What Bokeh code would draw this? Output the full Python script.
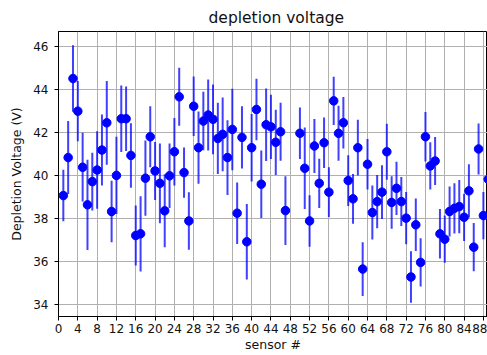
from bokeh.plotting import figure
from bokeh.models import ColumnDataSource, FixedTicker, Range1d
from bokeh.embed import file_html
from bokeh.resources import INLINE

sensors = list(range(1, 48)) + list(range(50, 90))
voltage = [39.08, 40.85, 44.53, 43.01, 40.4, 38.65, 39.73, 40.27, 41.2, 42.47,
           38.34, 40.02, 42.66, 42.66, 40.95, 37.22, 37.3, 39.89, 41.82, 40.23,
           39.65, 38.37, 40.0, 41.12, 43.68, 40.15, 37.9, 43.24, 41.31, 42.55,
           42.83, 42.63, 41.74, 41.93, 40.85, 42.16, 38.26, 41.79, 36.93, 41.31,
           43.09, 39.61, 42.38, 42.28, 41.56, 42.05, 38.38,
           41.98, 40.35, 37.9, 41.39, 39.65, 41.54, 39.24, 43.49, 41.98, 42.47,
           39.78, 38.93, 41.31, 35.66, 40.54, 38.29, 38.8, 39.24, 41.12, 38.76,
           39.42, 38.8, 38.03, 35.29, 37.72, 35.97, 41.82, 40.46, 40.69, 37.3,
           37.05, 38.34, 38.49, 38.57, 38.07, 39.3, 36.68, 41.25, 38.15, 39.84]
errors = [1.2, 1.7, 1.55, 1.4, 1.6, 2.1, 1.35, 1.8, 1.65, 1.95,
          1.43, 1.8, 1.55, 1.5, 1.5, 1.4, 1.75, 1.75, 1.42, 1.35,
          1.86, 1.7, 1.5, 1.57, 1.35, 1.17, 1.34, 1.39, 1.68, 1.36,
          1.65, 1.62, 1.66, 1.72, 1.74, 1.9, 1.43, 1.45, 1.76, 1.57,
          1.43, 1.57, 1.69, 1.5, 1.52, 1.35, 1.6,
          1.2, 1.9, 1.2, 1.26, 1.15, 1.18, 1.16, 1.12, 1.28, 1.2,
          1.18, 1.16, 1.3, 1.25, 1.18, 1.26, 1.24, 1.25, 1.3, 1.22,
          1.24, 1.14, 1.22, 1.2, 1.22, 1.12, 1.15, 1.1, 1.12, 1.15,
          1.1, 1.16, 1.17, 1.24, 1.1, 1.24, 1.12, 1.19, 1.1, 1.2]
x_ticks = list(range(0, 89, 4))
y_ticks = list(range(34, 47, 2))

src = ColumnDataSource(dict(
    x=sensors, y=voltage,
    lo=[v - e for v, e in zip(voltage, errors)],
    hi=[v + e for v, e in zip(voltage, errors)],
))

FONT = "DejaVu Sans"
p = figure(width=487, height=355, output_backend="svg", toolbar_location=None,
           x_range=Range1d(0, 88.85), y_range=Range1d(33.45, 46.72),
           title="depletion voltage")
p.min_border_left = 58
p.min_border_right = 0
p.min_border_top = 31
p.min_border_bottom = 39

p.title.align = "left"
p.title.offset = 150
p.title.text_font = FONT
p.title.text_font_size = "15.5px"
p.title.text_font_style = "normal"
p.title.text_color = "#111111"

p.segment(x0="x", y0="lo", x1="x", y1="hi", source=src,
          line_color="blue", line_alpha=0.75, line_width=2)
p.scatter(x="x", y="y", source=src, size=8.5, fill_color="blue", line_color="blue")

p.xaxis.ticker = FixedTicker(ticks=x_ticks)
p.yaxis.ticker = FixedTicker(ticks=y_ticks)
p.xaxis.axis_label = "sensor #"
p.yaxis.axis_label = "Depletion Voltage (V)"
for ax in (p.xaxis, p.yaxis):
    ax.axis_label_text_font = FONT
    ax.axis_label_text_font_size = "12.5px"
    ax.axis_label_text_font_style = "normal"
    ax.axis_label_text_color = "#111111"
    ax.major_label_text_font = FONT
    ax.major_label_text_font_size = "12px"
    ax.major_label_text_color = "#111111"
    ax.axis_line_color = "black"
    ax.major_tick_line_color = "black"
    ax.major_tick_out = 4
    ax.major_tick_in = 0
    ax.minor_tick_line_color = None
p.xaxis.major_label_standoff = 3
p.xaxis.axis_label_standoff = 1
p.yaxis.major_label_standoff = 6
p.yaxis.axis_label_standoff = 6

p.grid.grid_line_color = "#b0b0b0"
p.grid.grid_line_width = 1
p.outline_line_color = "black"
p.outline_line_alpha = 1
p.background_fill_color = "white"
p.border_fill_color = "white"

open("out.html", "w").write(file_html(p, INLINE))
